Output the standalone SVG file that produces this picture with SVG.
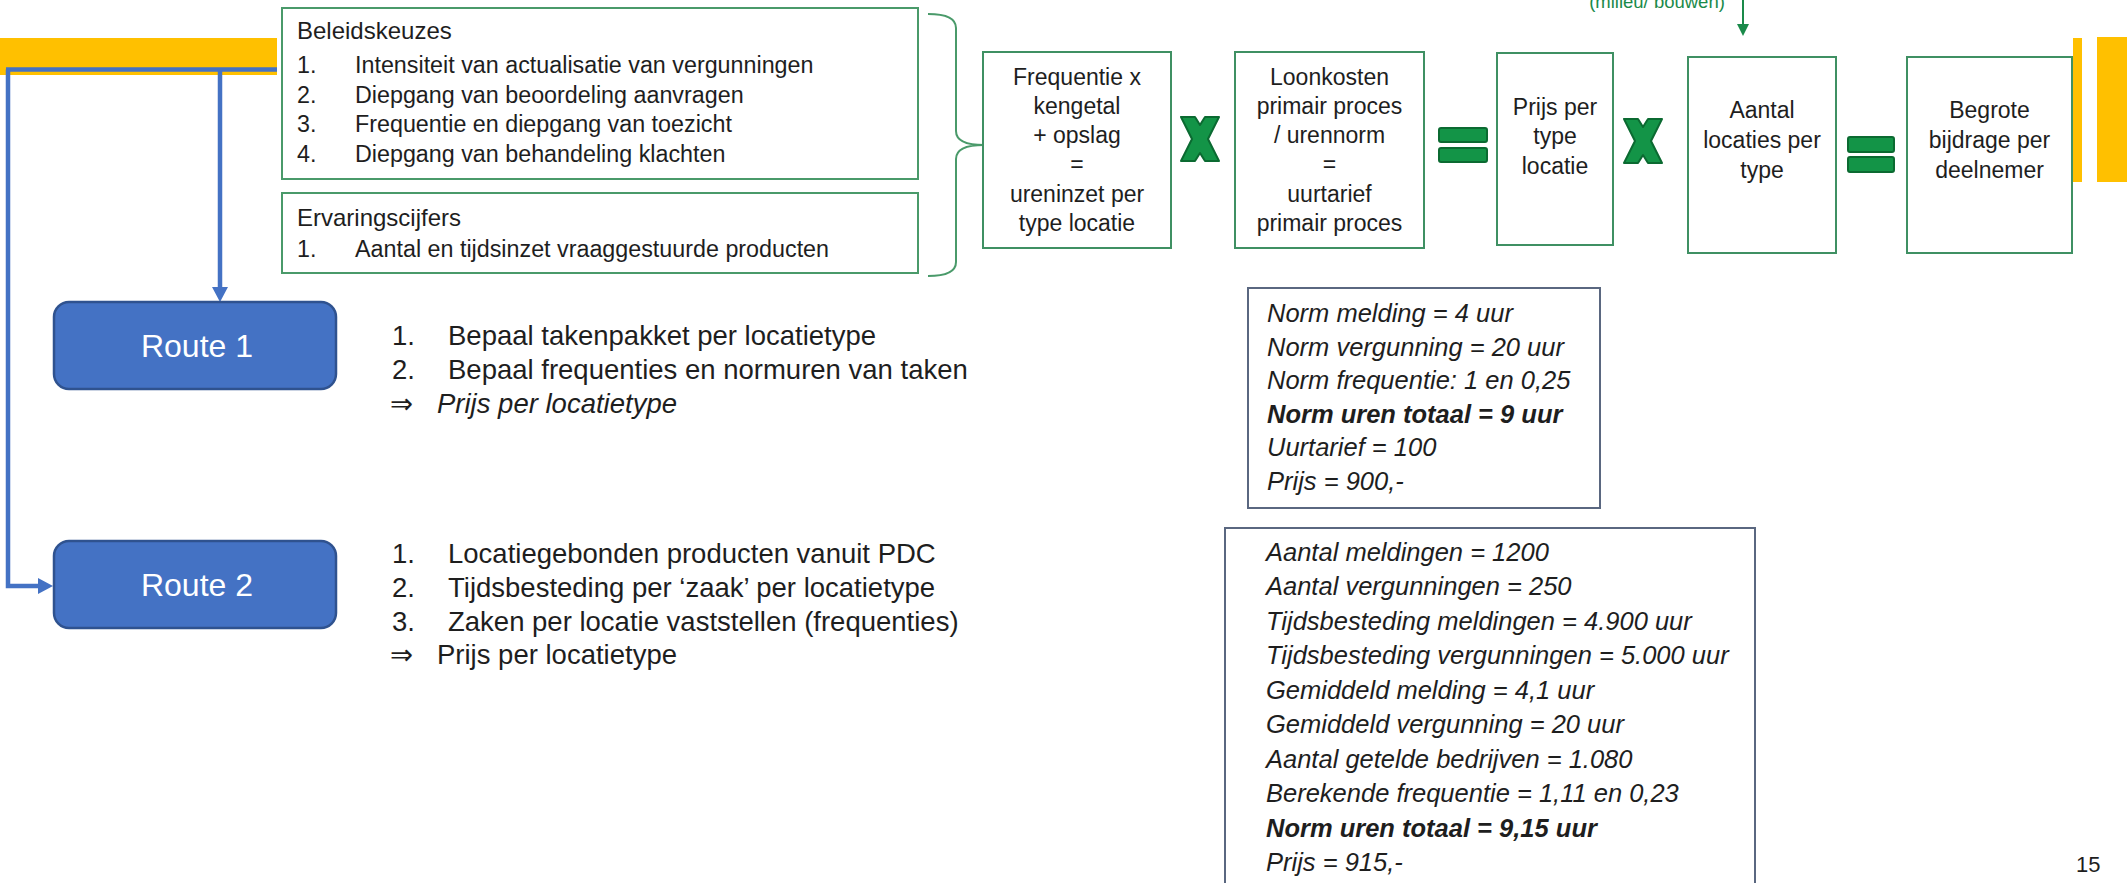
<svg xmlns="http://www.w3.org/2000/svg" width="2127" height="883" viewBox="0 0 2127 883">
<style>
.t{font-family:'Liberation Sans',Arial,sans-serif;fill:#1e1e1e}
.gbox{fill:#fff;stroke:#4a9a6a;stroke-width:2}
.rbox{fill:#fff;stroke:#3f9063;stroke-width:2}
.route{fill:#4472c4;stroke:#2f528f;stroke-width:2.5}
.rt{font-family:'Liberation Sans',Arial,sans-serif;fill:#fff;font-size:32px;text-anchor:middle}
.bt{font-size:23px;text-anchor:middle}
.lt{font-size:23.3px}
.ttl{font-size:24px}
.rl{font-size:27.5px}
.nb{fill:#fff;stroke:#5a6780;stroke-width:2}
.nt{font-size:25.5px;font-style:italic}
.op{fill:#139447;stroke:#0b6a31;stroke-width:2;stroke-linejoin:round}
.blue{fill:none;stroke:#4472c4;stroke-width:4.5}
.ylw{fill:#ffc000}
.arw{font-family:'DejaVu Sans','Liberation Sans',sans-serif}
</style>
<defs>
<marker id="ab" markerUnits="userSpaceOnUse" markerWidth="15" markerHeight="16" refX="2" refY="8" orient="auto"><path d="M0,0 L15,8 L0,16 z" fill="#4472c4"/></marker>
<marker id="ag" markerUnits="userSpaceOnUse" markerWidth="12" markerHeight="12" refX="2" refY="6" orient="auto"><path d="M0,0 L12,6 L0,12 z" fill="#1a8a4a"/></marker>
</defs>

<g id="decor">
<rect class="ylw" x="0" y="38" width="277" height="37"/>
<rect class="ylw" x="2073" y="38" width="9" height="144"/>
<rect class="ylw" x="2097" y="37" width="30" height="145"/>
<text class="t" x="1657" y="8" font-size="18.5" text-anchor="middle" style="fill:#1a8a4a">(milieu/ bouwen)</text>
</g>

<g id="connectors">
<path class="blue" d="M6,69.5 H277"/>
<path class="blue" d="M8,69.5 V586 H40" marker-end="url(#ab)"/>
<path class="blue" d="M220,69.5 V289" marker-end="url(#ab)"/>
<path d="M1743,-2 V26" stroke="#1a8a4a" stroke-width="2" fill="none" marker-end="url(#ag)"/>
<path d="M928,14 Q956,14 956,28 L956,131 Q956,145 984,145 Q956,145 956,159 L956,262 Q956,276 928,276" fill="none" stroke="#4a9a6a" stroke-width="2"/>
</g>

<g id="beleidskeuzes">
<rect class="gbox" x="282" y="8" width="636" height="171"/>
<text class="t ttl" x="297" y="39">Beleidskeuzes</text>
<text class="t lt" x="297" y="73">1.</text><text class="t lt" x="355" y="73">Intensiteit van actualisatie van vergunningen</text>
<text class="t lt" x="297" y="103">2.</text><text class="t lt" x="355" y="103">Diepgang van beoordeling  aanvragen</text>
<text class="t lt" x="297" y="132">3.</text><text class="t lt" x="355" y="132">Frequentie  en diepgang van toezicht</text>
<text class="t lt" x="297" y="162">4.</text><text class="t lt" x="355" y="162">Diepgang van behandeling klachten</text>
</g>

<g id="ervaringscijfers">
<rect class="gbox" x="282" y="193" width="636" height="80"/>
<text class="t ttl" x="297" y="226">Ervaringscijfers</text>
<text class="t lt" x="297" y="257">1.</text><text class="t lt" x="355" y="257">Aantal en tijdsinzet vraaggestuurde producten</text>
</g>

<g id="box-frequentie">
<rect class="rbox" x="983" y="52" width="188" height="196"/>
<text class="t bt" x="1077" y="85">Frequentie x</text>
<text class="t bt" x="1077" y="114">kengetal</text>
<text class="t bt" x="1077" y="143">+ opslag</text>
<text class="t bt" x="1077" y="172">=</text>
<text class="t bt" x="1077" y="202">ureninzet per</text>
<text class="t bt" x="1077" y="231">type locatie</text>
</g>

<g id="op-x1">
<path class="op" d="M1181,117 L1195,117 L1200,125 L1205,117 L1219,117 L1208,139 L1219,161 L1205,161 L1200,153 L1195,161 L1181,161 L1192,139 z"/>
</g>

<g id="box-loonkosten">
<rect class="rbox" x="1235" y="52" width="189" height="196"/>
<text class="t bt" x="1329.5" y="85">Loonkosten</text>
<text class="t bt" x="1329.5" y="114">primair proces</text>
<text class="t bt" x="1329.5" y="143">/ urennorm</text>
<text class="t bt" x="1329.5" y="172">=</text>
<text class="t bt" x="1329.5" y="202">uurtarief</text>
<text class="t bt" x="1329.5" y="231">primair proces</text>
</g>

<g id="op-eq1">
<rect class="op" x="1439" y="128" width="48" height="14" rx="2"/>
<rect class="op" x="1439" y="148" width="48" height="14" rx="2"/>
</g>

<g id="box-prijs">
<rect class="rbox" x="1497" y="53" width="116" height="192"/>
<text class="t bt" x="1555" y="115">Prijs per</text>
<text class="t bt" x="1555" y="144">type</text>
<text class="t bt" x="1555" y="174">locatie</text>
</g>

<g id="op-x2">
<path class="op" d="M1624,119 L1638,119 L1643,127 L1648,119 L1662,119 L1651,141 L1662,163 L1648,163 L1643,155 L1638,163 L1624,163 L1635,141 z"/>
</g>

<g id="box-aantal">
<rect class="rbox" x="1688" y="57" width="148" height="196"/>
<text class="t bt" x="1762" y="118">Aantal</text>
<text class="t bt" x="1762" y="148">locaties per</text>
<text class="t bt" x="1762" y="178">type</text>
</g>

<g id="op-eq2">
<rect class="op" x="1848" y="137" width="46" height="15" rx="2"/>
<rect class="op" x="1848" y="157" width="46" height="15" rx="2"/>
</g>

<g id="box-begrote">
<rect class="rbox" x="1907" y="57" width="165" height="196"/>
<text class="t bt" x="1989.5" y="118">Begrote</text>
<text class="t bt" x="1989.5" y="148">bijdrage per</text>
<text class="t bt" x="1989.5" y="178">deelnemer</text>
</g>

<g id="route1">
<rect class="route" x="54" y="302" width="282" height="87" rx="15"/>
<text class="rt" x="197" y="357">Route 1</text>
</g>

<g id="route1-list">
<text class="t rl" x="392" y="345">1.</text><text class="t rl" x="448" y="345">Bepaal takenpakket per locatietype</text>
<text class="t rl" x="392" y="379">2.</text><text class="t rl" x="448" y="379">Bepaal frequenties en normuren van taken</text>
<text class="t rl arw" x="390" y="413">⇒</text><text class="t rl" x="437" y="413" font-style="italic">Prijs per locatietype</text>
</g>

<g id="route2">
<rect class="route" x="54" y="541" width="282" height="87" rx="15"/>
<text class="rt" x="197" y="596">Route 2</text>
</g>

<g id="route2-list">
<text class="t rl" x="392" y="563">1.</text><text class="t rl" x="448" y="563">Locatiegebonden producten vanuit PDC</text>
<text class="t rl" x="392" y="597">2.</text><text class="t rl" x="448" y="597">Tijdsbesteding per ‘zaak’ per locatietype</text>
<text class="t rl" x="392" y="631">3.</text><text class="t rl" x="448" y="631">Zaken per locatie vaststellen (frequenties)</text>
<text class="t rl arw" x="390" y="664">⇒</text><text class="t rl" x="437" y="664">Prijs per locatietype</text>
</g>

<g id="norm-box">
<rect class="nb" x="1248" y="288" width="352" height="220"/>
<text class="t nt" x="1267" y="322">Norm melding = 4 uur</text>
<text class="t nt" x="1267" y="356">Norm vergunning = 20 uur</text>
<text class="t nt" x="1267" y="389">Norm frequentie: 1 en 0,25</text>
<text class="t nt" x="1267" y="423" font-weight="bold">Norm uren totaal = 9 uur</text>
<text class="t nt" x="1267" y="456">Uurtarief = 100</text>
<text class="t nt" x="1267" y="490">Prijs = 900,-</text>
</g>

<g id="ervaring-box">
<rect class="nb" x="1225" y="528" width="530" height="365"/>
<text class="t nt" x="1266" y="561" font-size="25">Aantal meldingen = 1200</text>
<text class="t nt" x="1266" y="595" font-size="25">Aantal vergunningen = 250</text>
<text class="t nt" x="1266" y="630" font-size="25">Tijdsbesteding meldingen = 4.900 uur</text>
<text class="t nt" x="1266" y="664" font-size="25">Tijdsbesteding vergunningen = 5.000 uur</text>
<text class="t nt" x="1266" y="699" font-size="25">Gemiddeld melding = 4,1 uur</text>
<text class="t nt" x="1266" y="733" font-size="25">Gemiddeld vergunning = 20 uur</text>
<text class="t nt" x="1266" y="768" font-size="25">Aantal getelde bedrijven = 1.080</text>
<text class="t nt" x="1266" y="802" font-size="25">Berekende frequentie = 1,11 en 0,23</text>
<text class="t nt" x="1266" y="837" font-size="25" font-weight="bold">Norm uren totaal = 9,15 uur</text>
<text class="t nt" x="1266" y="871" font-size="25">Prijs = 915,-</text>
</g>

<g id="page-number">
<text class="t" x="2076" y="872" font-size="22">15</text>
</g>
</svg>
